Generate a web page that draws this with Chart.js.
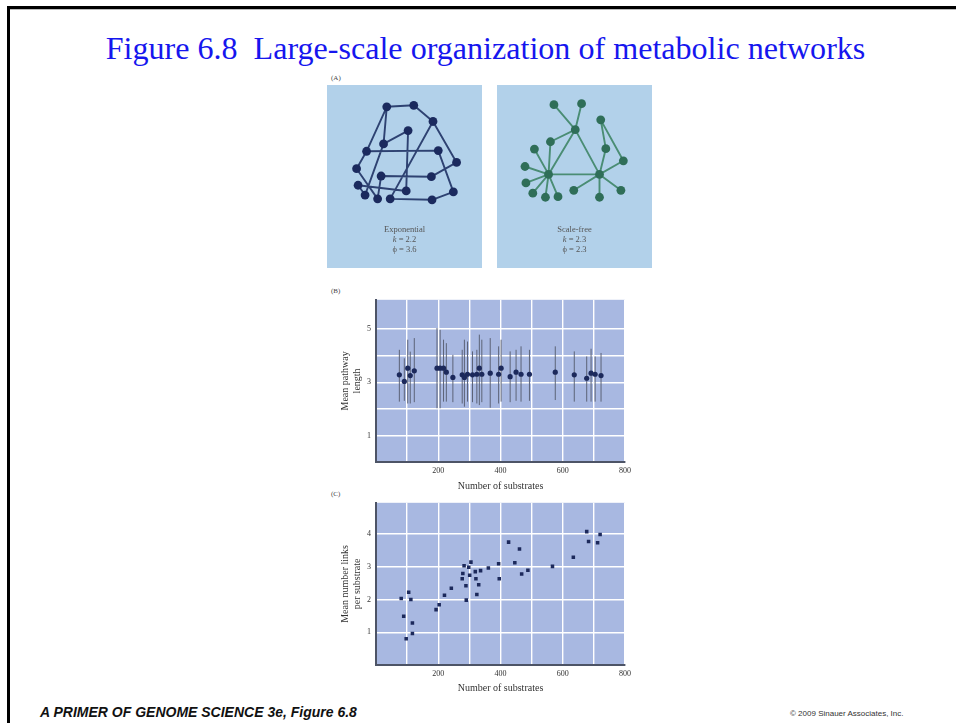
<!DOCTYPE html>
<html><head><meta charset="utf-8">
<script src="https://cdn.jsdelivr.net/npm/chart.js@4.4.0/dist/chart.umd.min.js"></script>
<style>
html,body{margin:0;padding:0;background:#fff;width:956px;height:723px;overflow:hidden;position:relative;font-family:"Liberation Serif",serif;}
.abs{position:absolute;}
canvas{position:absolute;}
#frameTop{left:7px;top:6px;width:949px;height:3px;background:#000;}
#frameTop2{left:10px;top:9px;width:946px;height:1px;background:#bbb;}
#frameLeft{left:7px;top:6px;width:3px;height:717px;background:#000;}
#title{left:0;width:971px;top:31px;text-align:center;color:#1616ee;font-size:31px;line-height:36px;white-space:pre;transform:scaleX(1.035);transform-origin:485.5px 0;}
.lab{font-size:7px;color:#444;}
.boxtxt{font-size:8.5px;color:#555;text-align:center;width:155px;line-height:10px;}
#footer{left:40px;top:704px;font-family:"Liberation Sans",Arial,sans-serif;font-weight:bold;font-style:italic;font-size:14px;color:#111;white-space:pre;}
#copy{left:790px;top:709px;font-family:"Liberation Sans",Arial,sans-serif;font-size:8px;color:#333;white-space:pre;}
</style></head>
<body>
<div id="frameTop" class="abs"></div>
<div id="frameTop2" class="abs"></div>
<div id="frameLeft" class="abs"></div>
<div id="title" class="abs">Figure 6.8  Large-scale organization of metabolic networks</div>
<div class="abs lab" style="left:331px;top:74px;">(A)</div>
<div class="abs lab" style="left:331px;top:287px;">(B)</div>
<div class="abs lab" style="left:331px;top:490px;">(C)</div>

<canvas id="netExp" width="155" height="183" style="left:327px;top:85px;"></canvas>
<canvas id="netSF" width="155" height="183" style="left:497px;top:85px;"></canvas>
<div class="abs boxtxt" style="left:327px;top:224px;">Exponential<br><i>k</i> = 2.2<br>ϕ = 3.6</div>
<div class="abs boxtxt" style="left:497px;top:224px;">Scale-free<br><i>k</i> = 2.3<br>ϕ = 2.3</div>

<canvas id="chartB" width="320" height="205" style="left:320px;top:290px;"></canvas>
<canvas id="chartC" width="320" height="205" style="left:320px;top:493px;"></canvas>

<div id="footer" class="abs">A PRIMER OF GENOME SCIENCE 3e, Figure 6.8</div>
<div id="copy" class="abs">© 2009 Sinauer Associates, Inc.</div>

<script>
// ---------- Panel A: network node positions (box-local units) and edges ----------
const expNodeX = [58.7, 87.3, 107.7, 81.3, 55.3, 37.3, 113.3, 132.7, 26.7, 52.7, 106, 28.3, 79.3, 129.3, 35.7, 49, 62.3, 106.7];
const expNodeY = [18.3, 16.7, 33.7, 43.3, 57.3, 65, 64.3, 76.7, 83.3, 91, 91.7, 100.7, 106.7, 107.7, 111, 115, 115, 116];
const expEdges = [[0,1],[1,2],[2,7],[0,4],[4,3],[3,12],[5,6],[5,8],[0,5],[8,15],[11,12],[11,14],[6,13],[7,10],[10,9],[9,15],[4,14],[2,16],[16,17],[17,13]];

const sfNodeX = [50, 104, 78.3, 55.7, 85, 52, 105.3, 110.7, 129.3, 35, 25, 26, 33.3, 46.7, 60, 76.7, 104, 126.7];
const sfNodeY = [89.3, 89.3, 42.3, 16, 15, 55, 32, 62.3, 75, 62.7, 81, 98.3, 109, 113.3, 112.7, 106, 113.3, 106];
const sfEdges = [[2,3],[2,4],[2,5],[5,0],[2,0],[2,1],[0,1],[0,9],[0,10],[0,11],[0,12],[0,13],[0,14],[15,1],[1,16],[1,17],[1,7],[7,6],[6,8],[8,1]];

// ---------- Panel B: mean pathway length with ranges ----------
const substratesB = [75, 91, 102, 110, 123, 196, 206, 217, 226, 247, 277, 284, 294, 310, 324, 332, 340, 367, 394, 402, 431, 450, 466, 493, 576, 637, 677, 691, 704, 723];
const pathLength  = [3.28, 3.03, 3.53, 3.25, 3.43, 3.53, 3.53, 3.53, 3.38, 3.18, 3.28, 3.18, 3.30, 3.28, 3.30, 3.53, 3.30, 3.34, 3.30, 3.53, 3.21, 3.38, 3.30, 3.30, 3.38, 3.28, 3.15, 3.34, 3.30, 3.25];
const pathHigh    = [4.22, 3.90, 4.60, 4.15, 4.66, 5.04, 4.97, 4.60, 4.47, 4.03, 4.22, 4.60, 4.53, 4.16, 4.22, 4.79, 4.60, 4.66, 4.35, 4.60, 4.16, 4.22, 4.35, 4.22, 4.35, 4.16, 3.97, 4.26, 3.97, 4.10];
const pathLow     = [2.27, 2.30, 2.20, 2.20, 2.25, 2.02, 2.02, 2.27, 2.27, 2.25, 2.20, 2.08, 2.27, 2.25, 2.20, 2.14, 2.25, 2.04, 2.20, 2.27, 2.25, 2.30, 2.27, 2.30, 2.33, 2.27, 2.27, 2.27, 2.27, 2.27];

// ---------- Panel C: mean number of links per substrate ----------
const substratesC = [81, 89, 97, 105, 112, 117, 117, 193, 203, 220, 242, 277, 279, 283, 289, 290, 298, 301, 305, 319, 321, 324, 330, 336, 361, 394, 396, 426, 446, 461, 468, 488, 567, 634, 677, 683, 712, 720];
const linksPerSub = [2.03, 1.49, 0.80, 2.22, 2.00, 1.28, 0.96, 1.69, 1.84, 2.13, 2.34, 2.63, 2.79, 3.03, 2.42, 1.98, 2.98, 2.74, 3.14, 2.85, 2.63, 2.15, 2.45, 2.88, 2.96, 3.09, 2.63, 3.75, 3.12, 3.54, 2.78, 2.89, 3.01, 3.29, 4.07, 3.77, 3.73, 3.98];

// ---------- tick labels ----------
const xTickLabels = [200, 400, 600, 800];
const yTickLabelsB = [1, 3, 5];
const yTickLabelsC = [1, 2, 3, 4];

const bgPlugin = {
  id: 'bg',
  beforeDraw(chart, args, opts) {
    const c = chart.ctx;
    c.save();
    c.fillStyle = opts.color;
    if (opts.full) {
      c.fillRect(0, 0, chart.width, chart.height);
    } else {
      const a = chart.chartArea;
      c.fillRect(a.left, a.top, a.right - a.left, a.bottom - a.top);
    }
    c.restore();
  }
};

function networkChart(id, nx, ny, edges, nodeColor, edgeColor) {
  const nodes = nx.map((x, i) => ({x: x, y: ny[i]}));
  const seg = [];
  edges.forEach(([a, b]) => {
    seg.push({x: nodes[a].x, y: nodes[a].y}, {x: nodes[b].x, y: nodes[b].y}, {x: nodes[b].x, y: null});
  });
  new Chart(document.getElementById(id), {
    type: 'scatter',
    data: {datasets: [
      {data: seg, showLine: true, spanGaps: false, borderColor: edgeColor, borderWidth: 1.9, pointRadius: 0, order: 2},
      {data: nodes, pointRadius: 4.4, backgroundColor: nodeColor, borderColor: nodeColor, borderWidth: 0, order: 1}
    ]},
    options: {
      responsive: false, animation: false, devicePixelRatio: 1,
      layout: {padding: 0},
      scales: {
        x: {display: false, min: 0, max: 155},
        y: {display: false, min: 0, max: 183, reverse: true}
      },
      plugins: {legend: {display: false}, tooltip: {enabled: false}, bg: {color: '#b2d1ea', full: true}}
    },
    plugins: [bgPlugin]
  });
}

networkChart('netExp', expNodeX, expNodeY, expEdges, '#1b2a5e', '#2e4272');
networkChart('netSF', sfNodeX, sfNodeY, sfEdges, '#2f6e58', '#4a8d74');

const serif = 'Liberation Serif';
function xScale(padBottom) {
  return {
    type: 'linear', min: 0, max: 800,
    afterFit(s) { s.height = 33; },
    ticks: {stepSize: 100, autoSkip: false, maxRotation: 0, padding: 4,
      callback: v => xTickLabels.includes(v) ? String(v) : '',
      font: {family: serif, size: 8}, color: '#333'},
    grid: {color: '#ffffff', lineWidth: 1.4, drawTicks: false},
    border: {display: true, color: '#4d5466', width: 2},
    title: {display: true, text: 'Number of substrates', font: {family: serif, size: 10, lineHeight: 1.2}, color: '#333', padding: {top: 0, bottom: padBottom}}
  };
}
function yScale(max, labels, title, topGrid) {
  return {
    type: 'linear', min: 0, max: max,
    afterFit(s) { s.width = 56; },
    ticks: {stepSize: 1, autoSkip: false, padding: 5,
      callback: v => labels.includes(v) ? String(v) : '',
      font: {family: serif, size: 8}, color: '#333'},
    grid: {color: c => (c.tick && c.tick.value > topGrid) ? 'rgba(0,0,0,0)' : '#ffffff', lineWidth: 1.4, drawTicks: false},
    border: {display: true, color: '#4d5466', width: 2},
    title: {display: true, text: title, font: {family: serif, size: 10, lineHeight: 1.17}, color: '#333', padding: {top: 20, bottom: 0}}
  };
}

// Panel B
const errSeg = [];
substratesB.forEach((x, i) => {
  errSeg.push({x: x, y: pathLow[i]}, {x: x, y: pathHigh[i]}, {x: x, y: null});
});
new Chart(document.getElementById('chartB'), {
  type: 'scatter',
  data: {datasets: [
    {data: errSeg, showLine: true, spanGaps: false, borderColor: '#5c6377', borderWidth: 1, pointRadius: 0, order: 2},
    {data: substratesB.map((x, i) => ({x: x, y: pathLength[i]})), pointRadius: 2.6, backgroundColor: '#1c295b', borderColor: '#1c295b', borderWidth: 0, order: 1}
  ]},
  options: {
    responsive: false, animation: false, devicePixelRatio: 1,
    layout: {padding: {top: 0, right: 15, bottom: 0, left: 0}},
    scales: {x: xScale(3), y: yScale(6.1, yTickLabelsB, ['Mean pathway', 'length'], 5.5)},
    plugins: {legend: {display: false}, tooltip: {enabled: false}, bg: {color: '#a8b8e1'}}
  },
  plugins: [bgPlugin]
});

// Panel C
new Chart(document.getElementById('chartC'), {
  type: 'scatter',
  data: {datasets: [
    {data: substratesC.map((x, i) => ({x: x, y: linksPerSub[i]})), pointStyle: 'rect', pointRadius: 2.5, backgroundColor: '#1c295b', borderColor: '#1c295b', borderWidth: 0}
  ]},
  options: {
    responsive: false, animation: false, devicePixelRatio: 1,
    layout: {padding: {top: 0, right: 15, bottom: 0, left: 0}},
    scales: {x: xScale(4), y: yScale(4.95, yTickLabelsC, ['Mean number links', 'per substrate'], 4.5)},
    plugins: {legend: {display: false}, tooltip: {enabled: false}, bg: {color: '#a8b8e1'}}
  },
  plugins: [bgPlugin]
});
</script>
</body></html>
